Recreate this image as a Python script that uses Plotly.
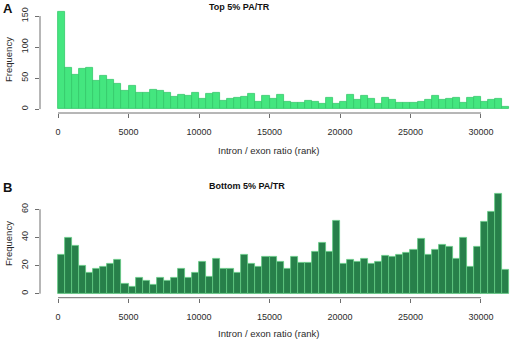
import numpy as np
import plotly.graph_objects as go

# Histogram bins: 500-rank wide bins covering 0..32000
bin_width = 500
bin_starts = np.arange(0, 32000, bin_width)

top_counts = [157, 67, 56, 65, 67, 46, 53, 47, 41, 30, 38, 26, 26, 31, 29, 27,
              20, 23, 22, 26, 17, 25, 27, 14, 16, 19, 20, 24, 12, 22, 17, 23,
              12, 10, 10, 13, 11, 8, 19, 9, 11, 23, 15, 22, 17, 9, 19, 15,
              10, 10, 10, 11, 15, 21, 15, 16, 18, 10, 18, 20, 11, 15, 17, 3]

bottom_counts = [28, 40, 34, 20, 15, 18, 19, 21, 24, 7, 5, 11, 9, 6, 11, 9,
                 11, 18, 11, 15, 23, 12, 25, 18, 18, 15, 28, 21, 19, 26, 26, 23,
                 18, 26, 22, 22, 30, 36, 30, 52, 21, 24, 23, 25, 21, 23, 27, 26,
                 28, 29, 31, 39, 28, 31, 35, 33, 25, 40, 19, 33, 51, 58, 71, 17]

x_ticks = [0, 5000, 10000, 15000, 20000, 25000, 30000]
top_yticks = [0, 50, 100, 150]
bottom_yticks = [0, 20, 40, 60]

W, H = 512, 340
FONT = "Liberation Sans, Arial, Helvetica, sans-serif"
AXIS_COL = "#6e6e6e"
TEXT_COL = "#2b2b2b"

centers = bin_starts + bin_width / 2

fig = go.Figure()
fig.add_trace(go.Bar(x=centers, y=top_counts, width=bin_width,
                     marker=dict(color="#44e67f", line=dict(color="#34c86a", width=0.8)),
                     xaxis="x", yaxis="y", showlegend=False))
fig.add_trace(go.Bar(x=centers, y=bottom_counts, width=bin_width,
                     marker=dict(color="#27804a", line=dict(color="#62c982", width=0.8)),
                     xaxis="x2", yaxis="y2", showlegend=False))

x_dom = [40 / W, 1.0]
top_dom = [(H - 113.0) / H, (H - 7.8) / H]
bot_dom = [(H - 297.7) / H, (H - 189.8) / H]
x_range = [-1280, 32200]

tickfont = dict(family=FONT, size=9, color=TEXT_COL)
xcommon = dict(range=x_range, domain=x_dom, tickvals=x_ticks, ticks="outside",
               ticklen=4, tickcolor=AXIS_COL, tickwidth=1, showline=False,
               showgrid=False, zeroline=False, tickfont=tickfont,
               tickformat="d", ticklabelstandoff=6)
ycommon = dict(ticks="outside", ticklen=4, tickcolor=AXIS_COL, tickwidth=1,
               showline=False, showgrid=False, zeroline=False, tickfont=tickfont,
               tickangle=-90, ticklabelstandoff=3)

fig.update_layout(
    width=W, height=H,
    margin=dict(l=0, r=0, t=0, b=0),
    paper_bgcolor="white", plot_bgcolor="white",
    bargap=0,
    xaxis=dict(anchor="y", **xcommon),
    yaxis=dict(anchor="x", domain=top_dom, range=[-6.3, 163.3],
               tickvals=top_yticks, **ycommon),
    xaxis2=dict(anchor="y2", **xcommon),
    yaxis2=dict(anchor="x2", domain=bot_dom, range=[-2.84, 73.84],
                tickvals=bottom_yticks, **ycommon),
)

line = dict(color=AXIS_COL, width=1)
# axis lines spanning only the tick range
fig.add_shape(type="line", xref="x", yref="y domain", x0=0, x1=30000, y0=0, y1=0, line=line)
fig.add_shape(type="line", xref="x2", yref="y2 domain", x0=0, x1=30000, y0=0, y1=0, line=line)
fig.add_shape(type="line", xref="x domain", yref="y", x0=0, x1=0, y0=0, y1=150, line=line)
fig.add_shape(type="line", xref="x2 domain", yref="y2", x0=0, x1=0, y0=0, y1=60, line=line)


def px(xp, yp):
    return xp / W, 1 - yp / H


def note(text, xp, yp, size, bold=False, angle=0):
    x, y = px(xp, yp)
    fig.add_annotation(text=f"<b>{text}</b>" if bold else text, x=x, y=y,
                       xref="paper", yref="paper", showarrow=False,
                       xanchor="center", yanchor="middle", textangle=angle,
                       font=dict(family=FONT, size=size, color="#111" if bold else TEXT_COL))


note("A", 7.5, 8, 13, bold=True)
note("B", 7.5, 187, 13, bold=True)
note("Top 5% PA/TR", 239.5, 7, 9, bold=True)
note("Bottom 5% PA/TR", 247, 186, 9, bold=True)
note("Frequency", 8, 60, 9.5, angle=-90)
note("Frequency", 8, 244, 9.5, angle=-90)
note("Intron / exon ratio (rank)", 268, 150, 9.5)
note("Intron / exon ratio (rank)", 268, 333, 9.5)

fig.write_html("out.html")
